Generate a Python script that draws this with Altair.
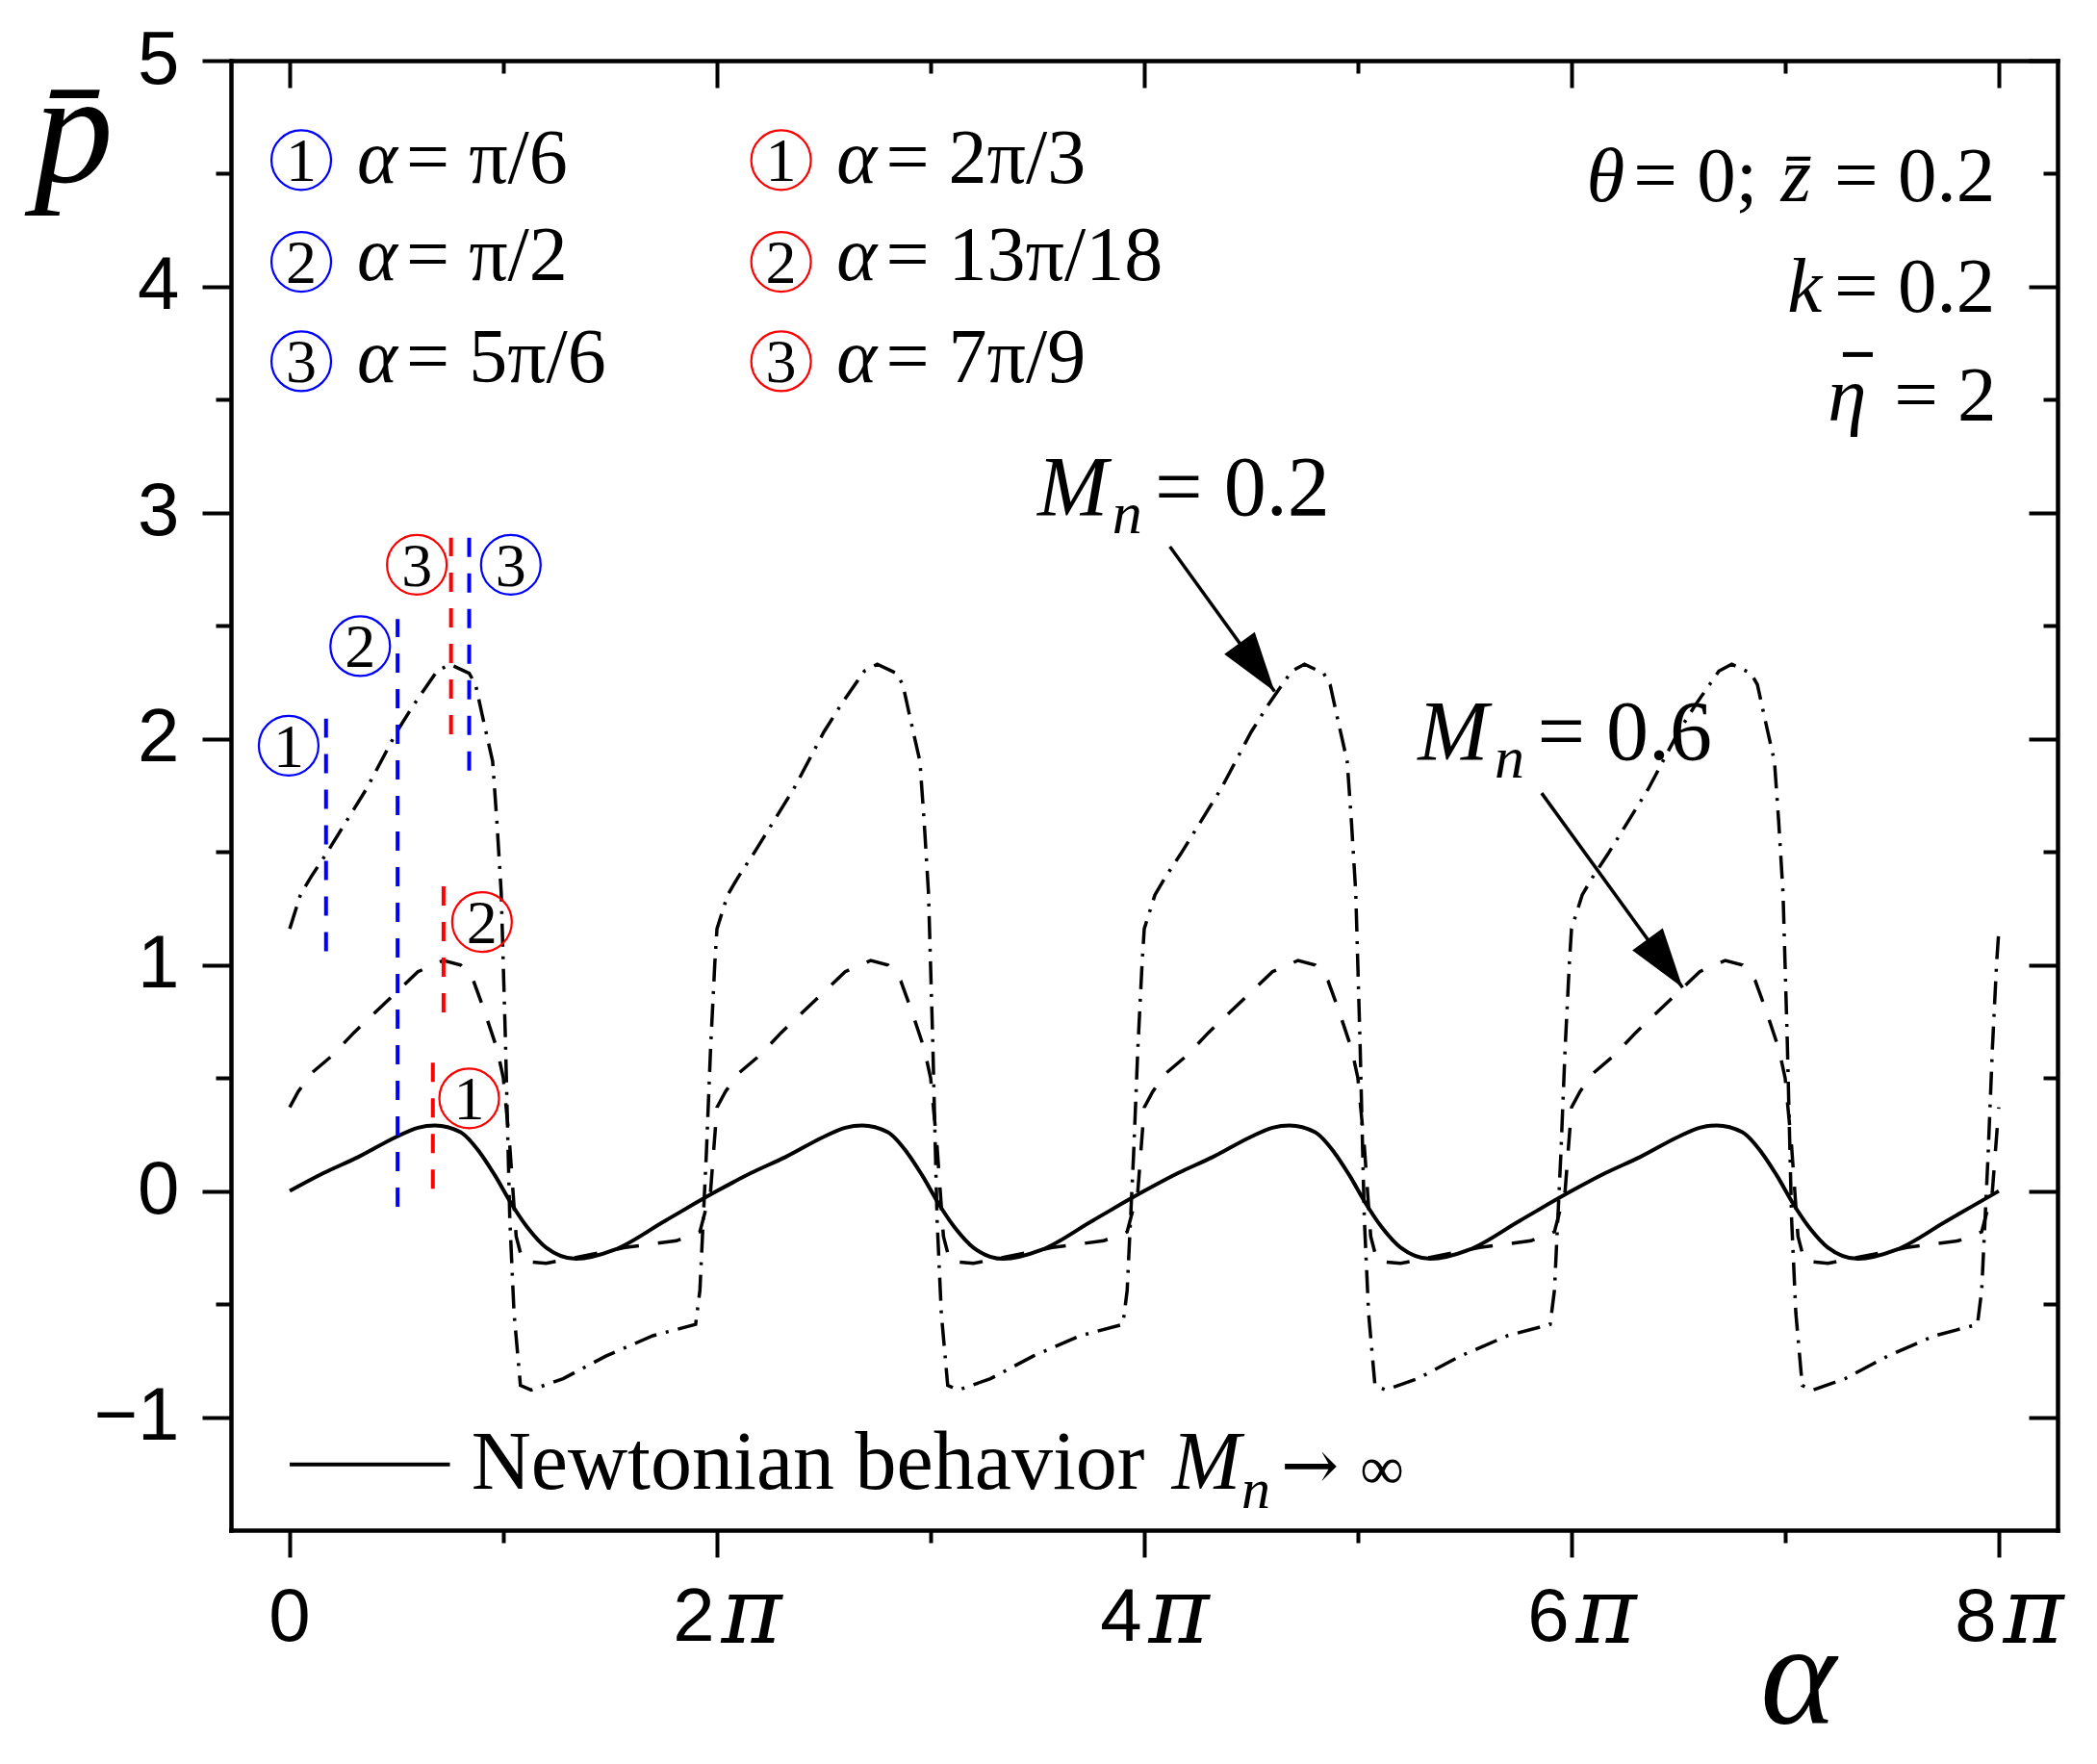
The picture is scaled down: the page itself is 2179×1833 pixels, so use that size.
import altair as alt
import pandas as pd

# alpha is kept in units of pi, pressure is p-bar
ALPHA_NEWTON = [
    0.00, 0.16, 0.32, 0.50, 0.60, 0.68, 0.80, 0.89, 0.96, 1.04, 1.12, 1.20, 1.34, 1.52, 1.76,
    2.00, 2.16, 2.32, 2.50, 2.60, 2.68, 2.80, 2.89, 2.96, 3.04, 3.12, 3.20, 3.34, 3.52, 3.76,
    4.00, 4.16, 4.32, 4.50, 4.60, 4.68, 4.80, 4.89, 4.96, 5.04, 5.12, 5.20, 5.34, 5.52, 5.76,
    6.00, 6.16, 6.32, 6.50, 6.60, 6.68, 6.80, 6.89, 6.96, 7.04, 7.12, 7.20, 7.34, 7.52, 7.76,
    8.00,
]
P_NEWTON = [
    0.00, 0.08, 0.15, 0.24, 0.28, 0.29, 0.26, 0.17, 0.07, -0.06, -0.17, -0.25, -0.30, -0.26, -0.13,
    0.00, 0.08, 0.15, 0.24, 0.28, 0.29, 0.26, 0.17, 0.07, -0.06, -0.17, -0.25, -0.30, -0.26, -0.13,
    0.00, 0.08, 0.15, 0.24, 0.28, 0.29, 0.26, 0.17, 0.07, -0.06, -0.17, -0.25, -0.30, -0.26, -0.13,
    0.00, 0.08, 0.15, 0.24, 0.28, 0.29, 0.26, 0.17, 0.07, -0.06, -0.17, -0.25, -0.30, -0.26, -0.13,
    0.00,
]

ALPHA_MN06 = [
    0.00, 0.04, 0.10, 0.20, 0.30, 0.50, 0.60, 0.72, 0.80, 0.86, 0.91, 0.97, 1.00, 1.03, 1.06, 1.09, 1.20, 1.57, 1.81, 1.92, 1.97,
    2.00, 2.04, 2.10, 2.20, 2.30, 2.50, 2.60, 2.72, 2.80, 2.86, 2.91, 2.97, 3.00, 3.03, 3.06, 3.09, 3.20, 3.57, 3.81, 3.92, 3.97,
    4.00, 4.04, 4.10, 4.20, 4.30, 4.50, 4.60, 4.72, 4.80, 4.86, 4.91, 4.97, 5.00, 5.03, 5.06, 5.09, 5.20, 5.57, 5.81, 5.92, 5.97,
    6.00, 6.04, 6.10, 6.20, 6.30, 6.50, 6.60, 6.72, 6.80, 6.86, 6.91, 6.97, 7.00, 7.03, 7.06, 7.09, 7.20, 7.57, 7.81, 7.92, 7.97,
    8.00,
]
P_MN06 = [
    0.37, 0.44, 0.52, 0.60, 0.70, 0.88, 0.97, 1.02, 1.00, 0.93, 0.80, 0.63, 0.50, 0.20, -0.20, -0.31, -0.32, -0.25, -0.22, -0.18, 0.00,
    0.37, 0.44, 0.52, 0.60, 0.70, 0.88, 0.97, 1.02, 1.00, 0.93, 0.80, 0.63, 0.50, 0.20, -0.20, -0.31, -0.32, -0.25, -0.22, -0.18, 0.00,
    0.37, 0.44, 0.52, 0.60, 0.70, 0.88, 0.97, 1.02, 1.00, 0.93, 0.80, 0.63, 0.50, 0.20, -0.20, -0.31, -0.32, -0.25, -0.22, -0.18, 0.00,
    0.37, 0.44, 0.52, 0.60, 0.70, 0.88, 0.97, 1.02, 1.00, 0.93, 0.80, 0.63, 0.50, 0.20, -0.20, -0.31, -0.32, -0.25, -0.22, -0.18, 0.00,
    0.37,
]

ALPHA_MN02 = [
    0.00, 0.05, 0.10, 0.17, 0.36, 0.50, 0.58, 0.69, 0.75, 0.84, 0.87, 0.90, 0.95, 0.97,
    0.99, 1.01, 1.03, 1.05, 1.08, 1.13, 1.28, 1.48, 1.70, 1.90, 1.92, 1.95, 1.97, 1.99,
    2.00, 2.05, 2.10, 2.17, 2.36, 2.50, 2.58, 2.69, 2.75, 2.84, 2.87, 2.90, 2.95, 2.97,
    2.99, 3.01, 3.03, 3.05, 3.08, 3.13, 3.28, 3.48, 3.70, 3.90, 3.92, 3.95, 3.97, 3.99,
    4.00, 4.05, 4.10, 4.17, 4.36, 4.50, 4.58, 4.69, 4.75, 4.84, 4.87, 4.90, 4.95, 4.97,
    4.99, 5.01, 5.03, 5.05, 5.08, 5.13, 5.28, 5.48, 5.70, 5.90, 5.92, 5.95, 5.97, 5.99,
    6.00, 6.05, 6.10, 6.17, 6.36, 6.50, 6.58, 6.69, 6.75, 6.84, 6.87, 6.90, 6.95, 6.97,
    6.99, 7.01, 7.03, 7.05, 7.08, 7.13, 7.28, 7.48, 7.70, 7.90, 7.92, 7.95, 7.97, 7.99,
    8.00,
]
P_MN02 = [
    1.16, 1.31, 1.39, 1.49, 1.78, 2.03, 2.15, 2.30, 2.33, 2.29, 2.24, 2.11, 1.90, 1.63,
    1.32, 0.66, -0.12, -0.54, -0.86, -0.88, -0.83, -0.73, -0.64, -0.59, -0.44, 0.16, 0.63, 1.01,
    1.16, 1.31, 1.39, 1.49, 1.78, 2.03, 2.15, 2.30, 2.33, 2.29, 2.24, 2.11, 1.90, 1.63,
    1.32, 0.66, -0.12, -0.54, -0.86, -0.88, -0.83, -0.73, -0.64, -0.59, -0.44, 0.16, 0.63, 1.01,
    1.16, 1.31, 1.39, 1.49, 1.78, 2.03, 2.15, 2.30, 2.33, 2.29, 2.24, 2.11, 1.90, 1.63,
    1.32, 0.66, -0.12, -0.54, -0.86, -0.88, -0.83, -0.73, -0.64, -0.59, -0.44, 0.16, 0.63, 1.01,
    1.16, 1.31, 1.39, 1.49, 1.78, 2.03, 2.15, 2.30, 2.33, 2.29, 2.24, 2.11, 1.90, 1.63,
    1.32, 0.66, -0.12, -0.54, -0.86, -0.88, -0.83, -0.73, -0.64, -0.59, -0.44, 0.16, 0.63, 1.01,
    1.15,
]

# coloured dashed markers at the chosen alpha values
MARK_ALPHA = [0.17, 0.505, 0.84, 0.67, 0.72, 0.755]
MARK_LOW = [1.06, -0.07, 1.86, 0.01, 0.79, 2.02]
MARK_HIGH = [2.09, 2.53, 2.89, 0.57, 1.35, 2.89]
MARK_COLOR = ["#0000ff", "#0000ff", "#0000ff", "#ff0000", "#ff0000", "#ff0000"]

# circled numbers next to the markers
TAG_NUM = ["1", "2", "3", "1", "2", "3"]
TAG_ALPHA = [-0.005, 0.33, 1.035, 0.84, 0.90, 0.595]
TAG_P = [1.97, 2.41, 2.77, 0.41, 1.19, 2.77]

# legend block at the top left
LEG_NUM = ["1", "2", "3", "1", "2", "3"]
LEG_VALUE = ["= π/6", "= π/2", "= 5π/6", "= 2π/3", "= 13π/18", "= 7π/9"]
LEG_CIRCLE_X = [0.054, 0.054, 0.054, 2.30, 2.30, 2.30]
LEG_CIRCLE_Y = [4.56, 4.11, 3.67, 4.56, 4.11, 3.67]
LEG_ALPHA_X = [0.315, 0.315, 0.315, 2.56, 2.56, 2.56]
LEG_VALUE_X = [0.545, 0.545, 0.545, 2.79, 2.79, 2.79]
LEG_TEXT_Y = [4.46, 4.03, 3.58, 4.46, 4.03, 3.58]

# other italic / upright text pieces
IT_TEXT = ["θ", "z̄", "k", "η", "M", "n", "M", "n", "M", "n"]
IT_X = [6.07, 6.98, 7.01, 7.20, 3.50, 3.85, 5.28, 5.64, 4.13, 4.455]
IT_Y = [4.38, 4.38, 3.89, 3.41, 2.99, 2.91, 1.91, 1.83, -1.315, -1.40]
IT_SIZE = [81, 81, 81, 81, 88, 62, 88, 62, 86, 60]

UP_TEXT = ["= 0;", "= 0.2", "= 0.2", "= 2", "= 0.2", "= 0.6", "Newtonian behavior", "∞"]
UP_X = [6.29, 7.23, 7.23, 7.51, 4.05, 5.84, 0.85, 5.01]
UP_Y = [4.38, 4.38, 3.89, 3.41, 2.99, 1.91, -1.315, -1.315]
UP_SIZE = [81, 81, 81, 81, 88, 88, 86, 64]

# bar over the eta of "eta-bar = 2"
ETA_BAR_X = [7.27, 7.41]
ETA_BAR_P = [3.70, 3.70]

# arrow of "M_n -> infinity" in the Newtonian key
LIMIT_X = [4.64]
LIMIT_Y = [-1.315]

# arrows pointing at the Mn curves
ARROW_X0 = [4.12, 5.86]
ARROW_P0 = [2.85, 1.76]
ARROW_X1 = [4.61, 6.52]
ARROW_P1 = [2.21, 0.90]

NEWTON_KEY_X = [0.0, 0.75]
NEWTON_KEY_P = [-1.21, -1.21]

X_TICKS = [0, 1, 2, 3, 4, 5, 6, 7, 8]
Y_TICKS = [-1, -0.5, 0, 0.5, 1, 1.5, 2, 2.5, 3, 3.5, 4, 4.5, 5]
XLABEL_POS = [2, 4, 6, 8]
XLABEL_TEXT = ["2", "4", "6", "8"]

W, H = 1898, 1527
SERIF = "Liberation Serif"
SANS = "Liberation Sans"
MATH = "DejaVu Serif"
XS = alt.Scale(domain=[-0.275, 8.275], nice=False, zero=False)
YS = alt.Scale(domain=[-1.5, 5], nice=False, zero=False)


def tick_len(test, short, long):
    return {"condition": {"test": test, "value": short}, "value": long}


def frame_axis(orient, values, test, short, long, offset=0):
    return alt.Axis(
        orient=orient, offset=offset, values=values, labels=False, grid=False, title=None,
        domainColor="black", domainWidth=4.5, domainCap="square",
        tickColor="black", tickWidth=4, tickSize=tick_len(test, short, long),
    )


bottom_axis = alt.Axis(
    orient="bottom", values=X_TICKS, labels=False, grid=False,
    domainColor="black", domainWidth=4.5, domainCap="square",
    tickColor="black", tickWidth=4, tickSize=tick_len("datum.value % 2 !== 0", 13, 28),
    title="α", titleFont=SERIF, titleFontStyle="italic", titleFontWeight="normal",
    titleFontSize=150, titleColor="black", titleX=1628, titleY=200,
    titleAlign="center", titleBaseline="alphabetic",
)
left_axis = alt.Axis(
    orient="left", values=Y_TICKS, grid=False,
    labelExpr="datum.value % 1 === 0 ? (datum.value < 0 ? '−' + abs(datum.value) : '' + datum.value) : ''",
    labelFont=SANS, labelFontSize=78, labelColor="black", labelPadding=24,
    domainColor="black", domainWidth=4.5, domainCap="square",
    tickColor="black", tickWidth=4, tickSize=tick_len("datum.value % 1 !== 0", 16, 30),
    title="p̄", titleFont=SERIF, titleFontStyle="italic", titleFontWeight="normal",
    titleFontSize=165, titleColor="black", titleAngle=0, titleX=-164, titleY=125,
    titleAlign="center", titleBaseline="alphabetic",
)
top_axis = frame_axis("bottom", X_TICKS, "datum.value % 2 !== 0", 13, 28, offset=-H)
right_axis = frame_axis("left", Y_TICKS, "datum.value % 1 !== 0", 15, 30, offset=-W)


def xy(xf="a", yf="p", xaxis=None, yaxis=None):
    return dict(
        x=alt.X(f"{xf}:Q", scale=XS, axis=xaxis),
        y=alt.Y(f"{yf}:Q", scale=YS, axis=yaxis),
    )


def text_layer(df, **style):
    return alt.Chart(df).mark_text(
        font=SERIF, align="left", baseline="alphabetic", color="black", **style
    ).encode(**xy(), text="t:N", size=alt.Size("fs:Q", scale=None, legend=None))


newton = alt.Chart(pd.DataFrame({"a": ALPHA_NEWTON, "p": P_NEWTON})).mark_line(
    color="black", strokeWidth=4, interpolate="monotone"
).encode(**xy(xaxis=bottom_axis, yaxis=left_axis))

mn06 = alt.Chart(pd.DataFrame({"a": ALPHA_MN06, "p": P_MN06})).mark_line(
    color="black", strokeWidth=3.5, strokeDash=[24, 20]
).encode(**xy(xaxis=top_axis, yaxis=right_axis))

mn02 = alt.Chart(pd.DataFrame({"a": ALPHA_MN02, "p": P_MN02})).mark_line(
    color="black", strokeWidth=3.5, strokeDash=[24, 10, 3, 10]
).encode(**xy())

marks_df = pd.DataFrame({"a": MARK_ALPHA, "lo": MARK_LOW, "hi": MARK_HIGH, "c": MARK_COLOR})
markers = alt.Chart(marks_df).mark_rule(strokeWidth=4, strokeDash=[20, 17]).encode(
    **xy(yf="lo"), y2="hi:Q", color=alt.Color("c:N", scale=None)
)

circ_df = pd.DataFrame({
    "a": TAG_ALPHA + LEG_CIRCLE_X,
    "p": TAG_P + LEG_CIRCLE_Y,
    "t": TAG_NUM + LEG_NUM,
    "c": MARK_COLOR + MARK_COLOR,
})
circles = alt.Chart(circ_df).mark_point(
    shape="circle", size=3844, filled=False, strokeWidth=2.2, opacity=1
).encode(**xy(), color=alt.Color("c:N", scale=None))
circle_digits = alt.Chart(circ_df).mark_text(
    font=SERIF, fontSize=64, align="center", baseline="alphabetic", dy=22, color="black"
).encode(**xy(), text="t:N")

italic = text_layer(pd.DataFrame({
    "a": LEG_ALPHA_X + IT_X,
    "p": LEG_TEXT_Y + IT_Y,
    "t": ["α"] * 6 + IT_TEXT,
    "fs": [80] * 6 + IT_SIZE,
}), fontStyle="italic")

upright = text_layer(pd.DataFrame({
    "a": LEG_VALUE_X + UP_X,
    "p": LEG_TEXT_Y + UP_Y,
    "t": LEG_VALUE + UP_TEXT,
    "fs": [80] * 6 + UP_SIZE,
}))

eta_bar = alt.Chart(pd.DataFrame({"a": ETA_BAR_X, "p": ETA_BAR_P})).mark_line(
    color="black", strokeWidth=5
).encode(**xy())

limit_arrow = alt.Chart(pd.DataFrame({"a": LIMIT_X, "p": LIMIT_Y})).mark_text(
    font=MATH, fontSize=72, align="left", baseline="alphabetic", color="black", text="→"
).encode(**xy())

arrow_df = pd.DataFrame({"a": ARROW_X0, "p": ARROW_P0, "a2": ARROW_X1, "p2": ARROW_P1})
shafts = alt.Chart(arrow_df).mark_rule(color="black", strokeWidth=3.5).encode(
    **xy(), x2="a2:Q", y2="p2:Q"
)
heads = alt.Chart(arrow_df).mark_point(
    shape="M0,0L0.63,2L-0.63,2Z", size=3844, angle=144, filled=True,
    color="black", opacity=1, strokeWidth=0,
).encode(**xy(xf="a2", yf="p2"))

key_line = alt.Chart(pd.DataFrame({"a": NEWTON_KEY_X, "p": NEWTON_KEY_P})).mark_line(
    color="black", strokeWidth=4
).encode(**xy())

zero_label = alt.Chart(pd.DataFrame({"a": [0], "t": ["0"]})).mark_text(
    font=SANS, fontSize=78, align="center", baseline="alphabetic", color="black"
).encode(x=alt.X("a:Q", scale=XS, axis=None), y=alt.value(H + 115), text="t:N")
digit_labels = alt.Chart(pd.DataFrame({"a": XLABEL_POS, "t": XLABEL_TEXT})).mark_text(
    font=SANS, fontSize=78, align="center", baseline="alphabetic", dx=-24, color="black"
).encode(x=alt.X("a:Q", scale=XS, axis=None), y=alt.value(H + 115), text="t:N")
pi_labels = alt.Chart(pd.DataFrame({"a": XLABEL_POS})).mark_text(
    font=MATH, fontStyle="italic", fontSize=96, align="center", baseline="alphabetic",
    dx=36, color="black", text="π",
).encode(x=alt.X("a:Q", scale=XS, axis=None), y=alt.value(H + 117))

chart = (
    alt.layer(
        newton, mn06, mn02, markers, circles, circle_digits, italic, upright, eta_bar,
        limit_arrow, shafts, heads, key_line, zero_label, digit_labels, pi_labels,
    )
    .resolve_axis(x="independent", y="independent")
    .properties(
        width=W, height=H,
        padding={"left": 232, "top": 55, "right": 33, "bottom": 235},
        autosize=alt.AutoSizeParams(type="none"),
        background="white",
    )
    .configure_view(stroke=None)
)

chart.save("out.html", embed_options={"renderer": "svg", "actions": False})
